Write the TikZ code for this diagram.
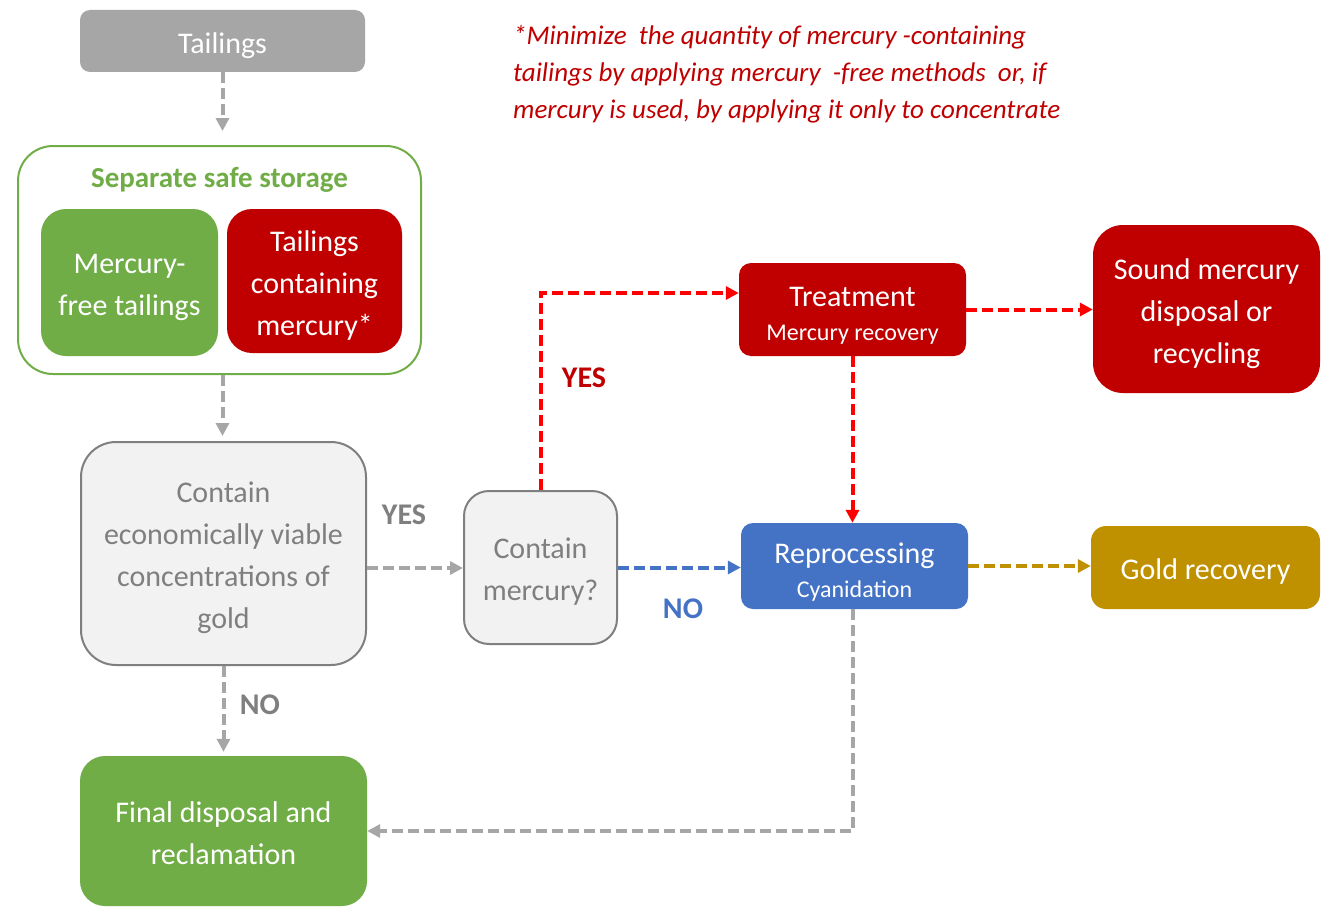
\documentclass[tikz,border=0pt]{standalone}
\usepackage{fontspec}
\setmainfont{Carlito}
\usetikzlibrary{arrows.meta}
\definecolor{cgray}{HTML}{A6A6A6}
\definecolor{cgreen}{HTML}{70AD47}
\definecolor{cred}{HTML}{C00000}
\definecolor{cblue}{HTML}{4472C4}
\definecolor{cgold}{HTML}{BF9000}
\definecolor{clight}{HTML}{F2F2F2}
\definecolor{cborder}{HTML}{7F7F7F}
\definecolor{ctext}{HTML}{7F7F7F}
\definecolor{carrowred}{HTML}{FF0000}
\newcommand\boxtext[2][-4pt]{\raisebox{#1}[\height][\depth]{\setlength{\tabcolsep}{0pt}\begin{tabular}{c}#2\end{tabular}}}
\tikzset{
  box/.style={inner sep=0pt, text=white,
    font=\fontsize{30}{42}\selectfont},
  qbox/.style={box, draw=cborder, line width=2pt, fill=clight, text=ctext},
  conn/.style={line width=4pt, dash pattern=on 11pt off 5pt,
    -{Triangle[length=13pt,width=13pt]}},
  lbl/.style={font=\fontsize{30}{36}\selectfont\bfseries}
}
\begin{document}
\begin{tikzpicture}[x=1pt,y=-1pt]
\clip (0,0) rectangle (1325,907);
\fill[white] (0,0) rectangle (1325,907);

\node[box, fill=cgray, rounded corners=10pt, minimum width=285pt, minimum height=62pt] (tail) at (222.5,41) {\boxtext{Tailings}};
\node[draw=cgreen, line width=2pt, fill=white, rounded corners=35pt, minimum width=403pt, minimum height=228pt, inner sep=0pt] (store) at (219.5,260) {};
\node[text=cgreen, font=\fontsize{29}{36}\selectfont\bfseries] (storet) at (219.5,180) {Separate safe storage};
\node[box, fill=cgreen, rounded corners=25pt, minimum width=177pt, minimum height=147pt] (mfree) at (129.5,282.5) {\boxtext{Mercury-\\free tailings}};
\node[box, fill=cred, rounded corners=25pt, minimum width=175pt, minimum height=144pt] (tcont) at (314.5,281) {\boxtext{Tailings\\containing\\mercury*}};

\node[qbox, rounded corners=35pt, minimum width=285pt, minimum height=223pt] (econ) at (223.5,553.5) {\boxtext{Contain\\economically viable\\concentrations of\\gold}};
\node[qbox, rounded corners=25pt, minimum width=153pt, minimum height=153pt] (cmerc) at (540.5,567.5) {\boxtext{Contain\\mercury?}};

\node[box, fill=cred, rounded corners=12pt, minimum width=227pt, minimum height=93pt] (treat) at (852.5,309.5) {\boxtext[-5.5pt]{Treatment\\[-8pt]{\fontsize{24}{30}\selectfont Mercury recovery}}};
\node[box, fill=cblue, rounded corners=12pt, minimum width=227pt, minimum height=86pt] (repro) at (854.5,566) {\boxtext[-6pt]{Reprocessing\\[-8pt]{\fontsize{24}{30}\selectfont Cyanidation}}};
\node[box, fill=cred, rounded corners=30pt, minimum width=227pt, minimum height=168pt] (sound) at (1206.5,309) {\boxtext{Sound mercury\\disposal or\\recycling}};
\node[box, fill=cgold, rounded corners=15pt, minimum width=229pt, minimum height=83pt] (gold) at (1205.5,567.5) {\boxtext{Gold recovery}};
\node[box, fill=cgreen, rounded corners=25pt, minimum width=287pt, minimum height=150pt] (final) at (223.5,831) {\boxtext{Final disposal and\\reclamation}};

\node[anchor=north west, align=left, text=cred, inner sep=0pt, font=\fontsize{27}{37}\selectfont\itshape] (note) at (513,25) {*Minimize\ \ the quantity of mercury -containing\\tailings by applying mercury\ \ -free methods\ \ or, if\\mercury is used, by applying it only to concentrate};

% connectors
\draw[conn, cgray, shorten >=14pt] (tail.south) -- (tail.south |- store.north);
\draw[conn, cgray, shorten >=5pt] (store.south -| tail.south) -- (tail.south |- econ.north);
\draw[conn, cgray] ([yshift=-14.5pt]econ.east) -- ([yshift=-14.5pt]econ.east -| cmerc.west);
\draw[conn, cgray, shorten >=4pt] (econ.south) -- (econ.south |- final.north);
\draw[conn, carrowred] (cmerc.north) |- ([yshift=16.5pt]treat.west);
\draw[conn, cblue] (cmerc.east) -- (cmerc.east -| repro.west);
\draw[conn, carrowred] (treat.south) -- (treat.south |- repro.north);
\draw[conn, carrowred] (treat.east) -- (treat.east -| sound.west);
\draw[conn, cgold] (repro.east) -- (repro.east -| gold.west);
\draw[conn, cgray] ([xshift=-1.5pt]repro.south) |- (final.east);

% labels
\node[lbl, text=cborder] (yes1) at (404,515) {YES};
\node[lbl, text=cborder] (no1) at (260,705) {NO};
\node[lbl, text=cred] (yes2) at (584,378) {YES};
\node[lbl, text=cblue] (no2) at (683,609) {NO};
\end{tikzpicture}
\end{document}
